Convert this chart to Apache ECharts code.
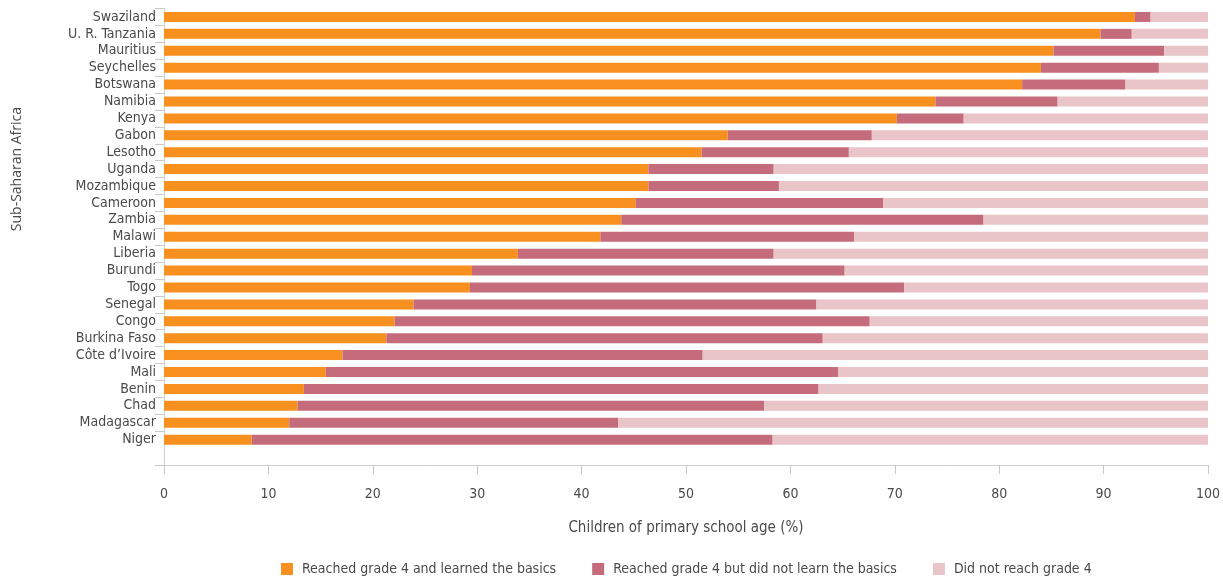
<!DOCTYPE html>
<html>
<head>
<meta charset="utf-8">
<script src="https://cdn.jsdelivr.net/npm/echarts@6/dist/echarts.min.js"></script>
<style>
  html, body { margin: 0; padding: 0; background: #fff; }
  #chart { width: 1223px; height: 579px; }
</style>
</head>
<body>
<div id="chart"></div>
<script>
const categories = ['Swaziland', 'U. R. Tanzania', 'Mauritius', 'Seychelles', 'Botswana', 'Namibia', 'Kenya', 'Gabon', 'Lesotho', 'Uganda', 'Mozambique', 'Cameroon', 'Zambia', 'Malawi', 'Liberia', 'Burundi', 'Togo', 'Senegal', 'Congo', 'Burkina Faso', 'Côte d’Ivoire', 'Mali', 'Benin', 'Chad', 'Madagascar', 'Niger'];
const learnedBasics = [93.0, 89.7, 85.2, 84.0, 82.2, 73.9, 70.2, 54.0, 51.5, 46.4, 46.4, 45.2, 43.8, 41.8, 33.9, 29.5, 29.3, 23.9, 22.1, 21.3, 17.1, 15.5, 13.4, 12.8, 12.0, 8.4];
const notLearnedBasics = [1.5, 3.0, 10.6, 11.3, 9.9, 11.7, 6.4, 13.8, 14.1, 12.0, 12.5, 23.7, 34.7, 24.3, 24.5, 35.7, 41.6, 38.6, 45.5, 41.8, 34.5, 49.1, 49.3, 44.7, 31.5, 49.9];
const notReached = [5.5, 7.3, 4.2, 4.7, 7.9, 14.4, 23.4, 32.2, 34.4, 41.6, 41.1, 31.1, 21.5, 33.9, 41.6, 34.8, 29.1, 37.5, 32.4, 36.9, 48.4, 35.4, 37.3, 42.5, 56.5, 41.7];
const xTicks = [0, 10, 20, 30, 40, 50, 60, 70, 80, 90, 100];
const seriesNames = ['Reached grade 4 and learned the basics', 'Reached grade 4 but did not learn the basics', 'Did not reach grade 4'];

const FONT = '"Liberation Sans Narrow", "DejaVu Sans Condensed", sans-serif';
const TEXT = '#4a4a4a';
const colors = ['#F7901E', '#C46C7B', '#E9C4C8'];

const chart = echarts.init(document.getElementById('chart'), null, { renderer: 'canvas' });
const axisCats = categories.concat(['']);
const dataSets = [learnedBasics, notLearnedBasics, notReached];

chart.setOption({
  animation: false,
  color: colors,
  textStyle: { fontFamily: FONT },
  grid: { left: 164, right: 13, top: 8.5, bottom: 114, containLabel: false },
  legend: {
    top: 562,
    left: 281,
    padding: 0,
    itemWidth: 12,
    itemHeight: 12,
    itemGap: 36,
    icon: 'rect',
    textStyle: { fontFamily: FONT, fontSize: 14, color: TEXT, padding: [0, 0, 0, 4] },
    data: seriesNames
  },
  xAxis: {
    type: 'value',
    min: xTicks[0],
    max: xTicks[xTicks.length - 1],
    interval: 10,
    name: 'Children of primary school age (%)',
    nameLocation: 'middle',
    nameGap: 56,
    nameTextStyle: { fontFamily: FONT, fontSize: 15, color: TEXT },
    axisLine: { show: true, lineStyle: { color: '#d0d0d0', width: 1 } },
    axisTick: { show: true, length: 9, lineStyle: { color: '#c8c8c8' } },
    axisLabel: { margin: 22, fontFamily: FONT, fontSize: 14, color: TEXT },
    splitLine: { show: false }
  },
  yAxis: {
    type: 'category',
    inverse: true,
    data: axisCats,
    axisLine: { show: true, lineStyle: { color: '#d0d0d0', width: 1 } },
    axisTick: {
      show: true, length: 9, lineStyle: { color: '#c8c8c8' },
      interval: function (index) { return index < categories.length; }
    },
    axisLabel: { margin: 8, fontFamily: FONT, fontSize: 14, color: TEXT, interval: 0 }
  },
  graphic: [{
    type: 'text',
    left: 10,
    top: 107,
    rotation: Math.PI / 2,
    style: { text: 'Sub-Saharan Africa', font: '14px "Open Sans", sans-serif', fill: TEXT }
  }],
  series: seriesNames.map(function (name, i) {
    return {
      name: name,
      type: 'bar',
      stack: 'total',
      barWidth: 10,
      data: dataSets[i]
    };
  })
});
</script>
</body>
</html>
